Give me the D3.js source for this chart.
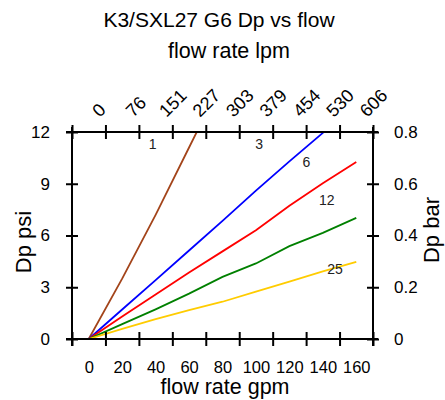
<!DOCTYPE html>
<html><head><meta charset="utf-8">
<script src="https://cdn.jsdelivr.net/npm/d3@7"></script>
<style>
body{margin:0;background:#fff;}
text{font-family:"Liberation Sans",Arial,sans-serif;fill:#000;}
</style></head>
<body>
<svg id="c" width="445" height="400"></svg>
<script>
// ---- data ----
const flowGpm = [0, 20, 40, 60, 80, 100, 120, 140, 160];
const seriesNames = ["1", "3", "6", "12", "25"];
const dp1  = [0, 3.5, 7.2, 11.1, 15.0, null, null, null, null];
const dp3  = [0, 1.71, 3.41, 5.13, 6.85, 8.6, 10.3, 11.95, 13.6];
const dp6  = [0, 1.31, 2.58, 3.85, 5.08, 6.31, 7.73, 9.03, 10.26];
const dp12 = [0, 0.86, 1.72, 2.63, 3.6, 4.38, 5.38, 6.15, 7.02];
const dp25 = [0, 0.59, 1.15, 1.68, 2.16, 2.74, 3.33, 3.92, 4.47];
const seriesColors = ["#a3441a", "#0000ff", "#ff0000", "#008000", "#ffcc00"];
const labelGpm = [38.2, 101.9, 130.1, 142.3, 147.3];
const labelPsi = [11.33, 11.33, 10.26, 8.08, 4.03];
const gpmTickLabels = [0, 20, 40, 60, 80, 100, 120, 140, 160];
const lpmTickLabels = ["0", "76", "151", "227", "303", "379", "454", "530", "606"];
const xTickMarks = [-10, 10, 30, 50, 70, 90, 110, 130, 150, 170];
const psiTicks = [0, 3, 6, 9, 12];
const barTicks = [0, 0.2, 0.4, 0.6, 0.8];

const svg = d3.select("#c");
const L = 72, R = 373, T = 132, B = 339;
const x = d3.scaleLinear().domain([-10, 170]).range([L, R]);
const y = d3.scaleLinear().domain([0, 12]).range([B, T]);
const y2 = d3.scaleLinear().domain([0, 0.8]).range([B, T]);

// titles
svg.append("text").attr("x", 219).attr("y", 27).attr("text-anchor", "middle")
  .style("font-size", "21px").text("K3/SXL27 G6 Dp vs flow");
svg.append("text").attr("x", 229).attr("y", 58).attr("text-anchor", "middle")
  .style("font-size", "21.5px").text("flow rate lpm");
svg.append("text").attr("x", 225).attr("y", 394).attr("text-anchor", "middle")
  .style("font-size", "21.5px").text("flow rate gpm");
svg.append("text").attr("transform", "translate(31,242) rotate(-90)").attr("text-anchor", "middle")
  .style("font-size", "22px").text("Dp psi");
svg.append("text").attr("transform", "translate(439,230) rotate(-90)").attr("text-anchor", "middle")
  .style("font-size", "22px").text("Dp bar");

// clip
svg.append("clipPath").attr("id", "clip").append("rect")
  .attr("x", L).attr("y", T).attr("width", R - L).attr("height", B - T);

// lines
const allSeries = [dp1, dp3, dp6, dp12, dp25];
const line = d3.line().defined(d => d[1] != null).x(d => x(d[0])).y(d => y(d[1]));
const gl = svg.append("g").attr("clip-path", "url(#clip)");
allSeries.forEach((s, i) => {
  gl.append("path").datum(flowGpm.map((g, j) => [g, s[j]]))
    .attr("d", line).attr("fill", "none").attr("stroke", seriesColors[i]).attr("stroke-width", 1.8);
});

// series labels
seriesNames.forEach((n, i) => {
  svg.append("text").attr("x", x(labelGpm[i])).attr("y", y(labelPsi[i]))
    .attr("text-anchor", "middle").attr("dominant-baseline", "central")
    .style("font-size", "14px").style("fill", "#222").text(n);
});

// axes
function styleAxis(g) {
  g.select(".domain").attr("stroke", "#000").attr("stroke-width", 2);
  g.selectAll(".tick line").attr("stroke", "#000").attr("stroke-width", 2);
}
const ax = svg.append("g").attr("transform", `translate(0,${B})`)
  .call(d3.axisBottom(x).tickValues(xTickMarks).tickSize(6).tickSizeOuter(0).tickFormat(""));
ax.selectAll(".tick line").attr("y1", -7).attr("y2", 7);
ax.select(".domain").attr("d", `M${L - 6},0H${R + 5}`);
styleAxis(ax);
const axt = svg.append("g").attr("transform", `translate(0,${T})`)
  .call(d3.axisTop(x).tickValues(xTickMarks).tickSize(6).tickSizeOuter(0).tickFormat(""));
axt.selectAll(".tick line").attr("y1", -7).attr("y2", 7);
axt.select(".domain").attr("d", `M${L - 6},0H${R + 5}`);
styleAxis(axt);
const ayl = svg.append("g").attr("transform", `translate(${L},0)`)
  .call(d3.axisLeft(y).tickValues(psiTicks).tickSize(6).tickSizeOuter(0).tickPadding(16));
ayl.selectAll(".tick line").attr("x1", -6).attr("x2", 6);
ayl.select(".domain").attr("d", `M0,${T - 5}V${B + 7}`);
ayl.selectAll(".tick text").style("font-size", "17px").attr("fill", "#000");
styleAxis(ayl);
const ayr = svg.append("g").attr("transform", `translate(${R},0)`)
  .call(d3.axisRight(y2).tickValues(barTicks).tickSize(6).tickSizeOuter(0).tickPadding(15)
    .tickFormat(d => d === 0 ? "0" : d3.format(".1f")(d)));
ayr.selectAll(".tick line").attr("x1", -6).attr("x2", 6);
ayr.select(".domain").attr("d", `M0,${T - 5}V${B + 7}`);
ayr.selectAll(".tick text").style("font-size", "17px").attr("fill", "#000");
styleAxis(ayr);

// bottom gpm labels (no tick marks)
const gb = svg.append("g").attr("transform", `translate(0,${B})`)
  .call(d3.axisBottom(x).tickValues(gpmTickLabels).tickSize(0).tickPadding(22));
gb.select(".domain").remove();
gb.selectAll(".tick text").style("font-size", "16.5px").attr("fill", "#000");

// top lpm labels (rotated)
svg.append("g").selectAll("text").data(gpmTickLabels).join("text")
  .attr("transform", (d, i) => `translate(${x(d) + 11},${T - 14}) rotate(-45)`)
  .attr("text-anchor", "start").style("font-size", "18px")
  .text((d, i) => lpmTickLabels[i]);
</script>
</body></html>
